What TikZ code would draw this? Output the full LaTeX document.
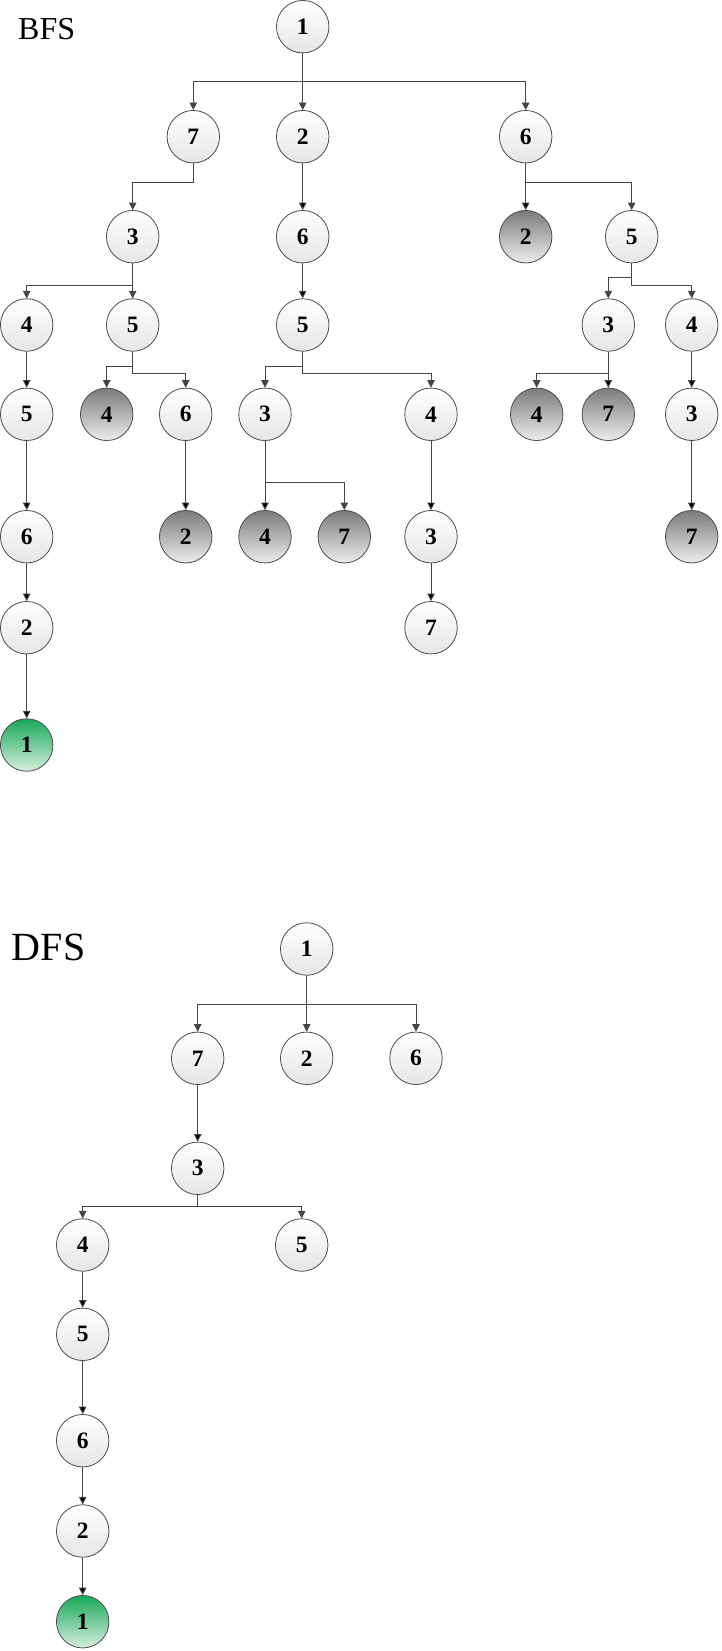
\documentclass[tikz,border=0pt]{standalone}
\usepackage{fontspec}
\setmainfont{Liberation Serif}
\usepackage{tikz}
\usetikzlibrary{arrows.meta,positioning}
\definecolor{edgegray}{HTML}{454545}
\definecolor{goaltop}{HTML}{17A858}
\definecolor{goalbot}{HTML}{D6EFDF}

\tikzset{
  vertex/.style={circle, draw=black!70, line width=0.8pt, minimum size=52.5pt, inner sep=0pt,
    top color=white, bottom color=white!90!black,
    font=\fontsize{23.5}{24}\selectfont\bfseries},
  seen/.style={vertex, top color=black!52, bottom color=black!7},
  goal/.style={vertex, top color=goaltop, bottom color=goalbot},
  link/.style={-{Triangle[width=7.5pt,length=7.5pt]}, draw=edgegray, line width=0.9pt},
  title/.style={anchor=base west, inner sep=0pt}
}

\begin{document}
\begin{tikzpicture}[x=1pt,y=-1pt]
      \useasboundingbox (0,0) rectangle (721,1651);

      % BFS
      \node[title, font=\fontsize{32}{32}\selectfont] (bfs) at (18,40) {BFS};
      \node[vertex] (b1) at (302.7,26.7) {1};
      \node[vertex] (b7) at (193.3,136.7) {7};
      \node[vertex] (b2) at (302.7,136.7) {2};
      \node[vertex] (b6) at (525.7,136.7) {6};
      \node[vertex] (b73) at (132.7,236.7) {3};
      \node[vertex] (b26) at (302.7,236.7) {6};
      \node[seen] (b62) at (525.7,236.7) {2};
      \node[vertex] (b65) at (631.7,236.7) {5};
      \node[vertex] (b34) at (26.7,325) {4};
      \node[vertex] (b35) at (132.7,325) {5};
      \node[vertex] (b265) at (302.7,325) {5};
      \node[vertex] (b653) at (608.3,325) {3};
      \node[vertex] (b654) at (691.7,325) {4};
      \node[vertex] (b345) at (26.7,414.3) {5};
      \node[seen] (b354) at (106.7,414.3) {4};
      \node[vertex] (b356) at (185.7,414.3) {6};
      \node[vertex] (b2653) at (265,414.3) {3};
      \node[vertex] (b2654) at (431,414.3) {4};
      \node[seen] (b6534) at (536.7,414.3) {4};
      \node[seen] (b6537) at (608.3,414.3) {7};
      \node[vertex] (b6543) at (691.7,414.3) {3};
      \node[vertex] (b3456) at (26.7,536.7) {6};
      \node[seen] (b3562) at (185.7,536.7) {2};
      \node[seen] (b26534) at (265,536.7) {4};
      \node[seen] (b26537) at (344.3,536.7) {7};
      \node[vertex] (b26543) at (431,536.7) {3};
      \node[seen] (b65437) at (691.7,536.7) {7};
      \node[vertex] (b34562) at (26.7,627.7) {2};
      \node[vertex] (b265437) at (431,627.7) {7};
      \node[goal] (bend) at (26.7,745) {1};

      \draw[link] (b1) -- (b1 |- 0,81) -| (b7);
      \draw[link] (b1) -- (b2);
      \draw[link] (b1) -- (b1 |- 0,81) -| (b6);
      \draw[link] (b7) -- (b7 |- 0,182.3) -| (b73);
      \draw[link] (b6) -- (b6 |- 0,182.3) -| (b65);
      \draw[link] (b73) -- (b73 |- 0,285) -| (b34);
      \draw[link] (b73) -- (b35);
      \draw[link] (b65) -- (b65 |- 0,277) -| (b653);
      \draw[link] (b65) -- (b65 |- 0,285) -| (b654);
      \draw[link] (b35) -- (b35 |- 0,366.7) -| (b354);
      \draw[link] (b35) -- (b35 |- 0,373.3) -| (b356);
      \draw[link] (b265) -- (b265 |- 0,366.7) -| (b2653);
      \draw[link] (b265) -- (b265 |- 0,373.3) -| (b2654);
      \draw[link] (b653) -- (b653 |- 0,373.3) -| (b6534);
      \draw[link] (b2653) -- (b2653 |- 0,482.3) -| (b26537);
      \path[link]
      (b2) edge (b26)
      (b6) edge (b62)
      (b26) edge (b265)
      (b653) edge (b6537)
      (b654) edge (b6543)
      (b6543) edge (b65437)
      (b34) edge (b345)
      (b345) edge (b3456)
      (b3456) edge (b34562)
      (b34562) edge (bend)
      (b356) edge (b3562)
      (b2653) edge (b26534)
      (b2654) edge (b26543)
      (b26543) edge (b265437);

      % DFS
      \node[title, font=\fontsize{40}{40}\selectfont] (dfs) at (11.7,960) {DFS};
      \node[vertex] (d1) at (306.7,949) {1};
      \node[vertex] (d7) at (197.7,1058.3) {7};
      \node[vertex] (d2) at (306.7,1058.3) {2};
      \node[vertex] (d6) at (416,1058.3) {6};
      \node[vertex] (d3) at (197.7,1168.3) {3};
      \node[vertex] (d4) at (82.7,1245) {4};
      \node[vertex] (d5) at (301.7,1245) {5};
      \node[vertex] (d45) at (82.7,1334.3) {5};
      \node[vertex] (d456) at (82.7,1440.7) {6};
      \node[vertex] (d4562) at (82.7,1531) {2};
      \node[goal] (dend) at (82.7,1621.7) {1};

      \draw[link] (d1) -- (d1 |- 0,1004.3) -| (d7);
      \draw[link] (d1) -- (d2);
      \draw[link] (d1) -- (d1 |- 0,1004.3) -| (d6);
      \draw[link] (d3) -- (d3 |- 0,1206) -| (d4);
      \draw[link] (d3) -- (d3 |- 0,1206) -| (d5);
      \path[link]
      (d7) edge (d3)
      (d4) edge (d45)
      (d45) edge (d456)
      (d456) edge (d4562)
      (d4562) edge (dend);
\end{tikzpicture}
\end{document}
